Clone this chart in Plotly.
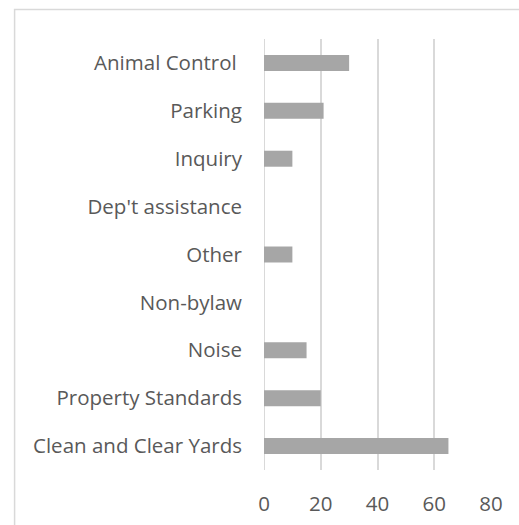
import plotly.graph_objects as go

categories = ["Clean and Clear Yards", "Property Standards", "Noise", "Non-bylaw",
              "Other", "Dep't assistance", "Inquiry", "Parking", "Animal Control\u00a0"]
values = [65, 20, 15, 0, 10, 0, 10, 21, 30]
x_ticks = [0, 20, 40, 60, 80]

fig = go.Figure(go.Bar(
    x=values, y=categories, orientation="h",
    marker=dict(color="#a6a6a6", line=dict(width=0)),
))

W, H = 519, 525
L, R = 263.5, 491.5
T, B = 39, 470
pw, ph = R - L, B - T

fig.update_layout(
    width=W, height=H,
    margin=dict(l=L, r=W - R, t=T, b=H - B, pad=0, autoexpand=False),
    paper_bgcolor="white", plot_bgcolor="white",
    bargap=0.666, showlegend=False,
    font=dict(family="Open Sans", size=20.5, color="#595959"),
    xaxis=dict(range=[0, 80], tickvals=x_ticks, showgrid=True, gridcolor="#d9d9d9",
               gridwidth=2, zeroline=False, showline=False, ticks="", automargin=False,
               ticklabelstandoff=19, tickfont=dict(size=20.5, color="#595959"),
               fixedrange=True),
    yaxis=dict(categoryorder="array", categoryarray=categories, showgrid=False,
               zeroline=False, showline=False, ticks="", ticklabelstandoff=21,
               automargin=False,
               tickfont=dict(size=20.5, color="#595959"), fixedrange=True),
    shapes=[
        dict(type="rect", xref="paper", yref="paper",
             x0=(13 - L) / pw, x1=(W + 20 - L) / pw,
             y0=(B - (H + 20)) / ph, y1=(B - 9.5) / ph,
             line=dict(color="#d9d9d9", width=1.5), layer="below"),
        dict(type="line", xref="x", yref="paper", x0=0, x1=0, y0=0, y1=1,
             line=dict(color="#d9d9d9", width=2), layer="below"),
    ],
)

fig.write_html("out.html", config={"displayModeBar": False},
               post_script="document.body.style.margin='0';")
